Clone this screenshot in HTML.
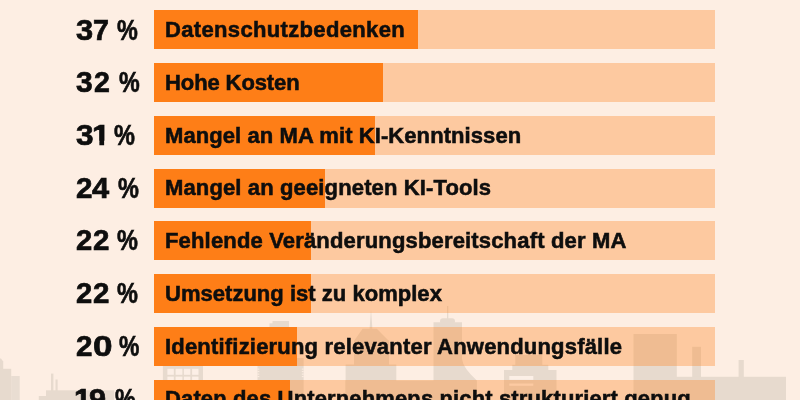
<!DOCTYPE html>
<html lang="de"><head><meta charset="utf-8"><title>KI Hindernisse</title>
<style>
html,body{margin:0;padding:0}
body{width:800px;height:400px;overflow:hidden;position:relative;background:#fdeee3;font-family:"Liberation Sans",Arial,sans-serif;color:#0e0e0e}
.sky{position:absolute;left:0;top:0;width:800px;height:400px}
.bar{position:absolute;left:154px;width:560.5px;height:39.0px;background:rgba(254,126,23,0.325)}
.fill{position:absolute;left:154px;height:39.0px;background:#fe7e17}
.pct{position:absolute;left:0;width:150px;will-change:transform;-webkit-text-stroke:0.7px #0e0e0e;height:39.0px;line-height:39.0px;font-weight:bold;font-size:30px;white-space:nowrap}
.pct span{position:absolute;top:0;transform-origin:0 50%}
.pct span.sp{left:110px}
.lbl{position:absolute;left:165.1px;will-change:transform;-webkit-text-stroke:0.55px #0e0e0e;height:39.0px;line-height:39.0px;font-weight:bold;font-size:22px;white-space:nowrap}
</style></head><body>
<svg class="sky" width="800" height="400" viewBox="0 0 800 400">
<g fill="#e7dace">
<polygon points="0,358.6 1,358.6 3.2,361.6 3.2,400 0,400"/>
<rect x="0" y="368.8" width="11.2" height="32"/>
<rect x="11.2" y="376" width="8.5" height="24" fill="#e9ddd2"/>
<rect x="51" y="373.6" width="2.4" height="27"/>
<rect x="55.5" y="379.5" width="2.1" height="21"/>
<rect x="46" y="390.3" width="68.2" height="10"/>
<rect x="38.8" y="396" width="8" height="4"/>
<rect x="162.9" y="345" width="40.1" height="55"/>
<rect x="272.5" y="321" width="16.5" height="40"/>
<rect x="269.5" y="323.3" width="19.5" height="40"/>
<rect x="257.5" y="358" width="46.1" height="42"/>
<polygon points="369.6,328.8 371,309 372.4,328.8"/>
<polygon points="362.6,328.7 376.8,328.7 389,341 354,341"/>
<rect x="354" y="340.5" width="35" height="60"/>
<rect x="345.6" y="364.5" width="50.7" height="36"/>
<rect x="345.6" y="380.5" width="130.7" height="20"/>
<rect x="447" y="306" width="1.3" height="13"/>
<rect x="440" y="318.3" width="15" height="6" rx="3"/>
<path d="M433.5,322.2 H462 V359 Q463,368 476.8,380.5 V400 H433.5 Z"/>
<rect x="515.3" y="355" width="27" height="45"/>
<rect x="512.3" y="364.8" width="36" height="36"/>
<rect x="504" y="370" width="52.5" height="30"/>
<rect x="633.5" y="334" width="43.3" height="66"/>
<rect x="692.2" y="346.8" width="8.8" height="54"/>
<rect x="676" y="376.8" width="110" height="24"/>
<rect x="738.6" y="360" width="5.2" height="20"/>
</g>
<g fill="#fcefe6">
<rect x="167.4" y="368.8" width="6.4" height="6"/>
<rect x="175.6" y="368.8" width="6.8" height="6"/>
<rect x="183.9" y="368.8" width="6.4" height="6"/>
<rect x="192.1" y="368.8" width="6.4" height="6"/>
<rect x="167.4" y="376.6" width="6.4" height="6"/>
<rect x="175.6" y="376.6" width="6.8" height="6"/>
<rect x="183.9" y="376.6" width="6.4" height="6"/>
<rect x="192.1" y="376.6" width="6.4" height="6"/>
<rect x="509.3" y="376" width="24" height="3.8"/>
<rect x="509.3" y="383.5" width="24" height="2.3"/>
</g>
<g fill="#fdeee3">
<rect x="257.5" y="368.6" width="1.8" height="1"/>
<rect x="257.5" y="371.1" width="1.8" height="1"/>
<rect x="257.5" y="373.6" width="1.8" height="1"/>
<rect x="257.5" y="376.1" width="1.8" height="1"/>
<rect x="301.8" y="368.6" width="1.8" height="1"/>
<rect x="301.8" y="371.1" width="1.8" height="1"/>
<rect x="301.8" y="373.6" width="1.8" height="1"/>
<rect x="301.8" y="376.1" width="1.8" height="1"/>
</g>
</svg>

<div class="bar" style="top:10.30px"></div>
<div class="fill" style="top:10.30px;width:264.2px"></div>
<div class="pct" style="top:9.90px"><span style="left:75.88px;transform:scaleX(1.027);">3</span><span style="left:93.35px;transform:scaleX(0.957);">7</span><span class="sp"> </span><span style="left:117.20px;transform:scaleX(0.779);">%</span></div>
<div class="lbl" style="top:10.20px;letter-spacing:0.344px">Datenschutzbedenken</div>
<div class="bar" style="top:63.07px"></div>
<div class="fill" style="top:63.07px;width:228.5px"></div>
<div class="pct" style="top:62.07px"><span style="left:75.90px;transform:scaleX(1.000);">3</span><span style="left:93.64px;transform:scaleX(0.952);">2</span><span class="sp"> </span><span style="left:118.80px;transform:scaleX(0.775);">%</span></div>
<div class="lbl" style="top:62.97px;letter-spacing:-0.100px">Hohe Kosten</div>
<div class="bar" style="top:115.84px"></div>
<div class="fill" style="top:115.84px;width:221.3px"></div>
<div class="pct" style="top:115.44px"><span style="left:75.97px;transform:scaleX(1.053);">3</span><span style="left:91.97px;transform:scaleX(1.083);clip-path:polygon(0 0,16.7px 0,16.7px 25.8px,11.2px 25.8px,11.2px 39px,6.8px 39px,6.8px 25.8px,0 25.8px);">1</span><span class="sp"> </span><span style="left:114.40px;transform:scaleX(0.783);">%</span></div>
<div class="lbl" style="top:115.74px;letter-spacing:0.084px">Mangel an MA mit KI-Kenntnissen</div>
<div class="bar" style="top:168.61px"></div>
<div class="fill" style="top:168.61px;width:171.4px"></div>
<div class="pct" style="top:168.21px"><span style="left:75.71px;transform:scaleX(0.986);">2</span><span style="left:92.13px;transform:scaleX(1.028);">4</span><span class="sp"> </span><span style="left:118.30px;transform:scaleX(0.783);">%</span></div>
<div class="lbl" style="top:167.81px;letter-spacing:0.136px">Mangel an geeigneten KI-Tools</div>
<div class="bar" style="top:221.38px"></div>
<div class="fill" style="top:221.38px;width:157.1px"></div>
<div class="pct" style="top:220.38px"><span style="left:75.72px;transform:scaleX(0.973);">2</span><span style="left:92.77px;transform:scaleX(0.983);">2</span><span class="sp"> </span><span style="left:117.30px;transform:scaleX(0.783);">%</span></div>
<div class="lbl" style="top:221.28px;letter-spacing:0.167px">Fehlende Veränderungsbereitschaft der MA</div>
<div class="bar" style="top:274.15px"></div>
<div class="fill" style="top:274.15px;width:157.1px"></div>
<div class="pct" style="top:273.15px"><span style="left:75.72px;transform:scaleX(0.973);">2</span><span style="left:92.77px;transform:scaleX(0.983);">2</span><span class="sp"> </span><span style="left:117.30px;transform:scaleX(0.783);">%</span></div>
<div class="lbl" style="top:274.05px;letter-spacing:0.026px">Umsetzung ist zu komplex</div>
<div class="bar" style="top:326.92px"></div>
<div class="fill" style="top:326.92px;width:142.8px"></div>
<div class="pct" style="top:325.52px"><span style="left:75.71px;transform:scaleX(0.986);">2</span><span style="left:92.50px;transform:scaleX(1.170);">0</span><span class="sp"> </span><span style="left:119.31px;transform:scaleX(0.763);">%</span></div>
<div class="lbl" style="top:326.82px;letter-spacing:0.193px">Identifizierung relevanter Anwendungsfälle</div>
<div class="bar" style="top:379.69px"></div>
<div class="fill" style="top:379.69px;width:135.7px"></div>
<div class="pct" style="top:379.29px"><span style="left:74.09px;transform:scaleX(1.028);clip-path:polygon(0 0,16.7px 0,16.7px 25.8px,11.2px 25.8px,11.2px 39px,6.8px 39px,6.8px 25.8px,0 25.8px);">1</span><span style="left:88.77px;transform:scaleX(1.024);">9</span><span class="sp"> </span><span style="left:114.55px;transform:scaleX(0.773);">%</span></div>
<div class="lbl" style="top:378.59px;letter-spacing:0.135px">Daten des Unternehmens nicht strukturiert genug</div>
</body></html>
